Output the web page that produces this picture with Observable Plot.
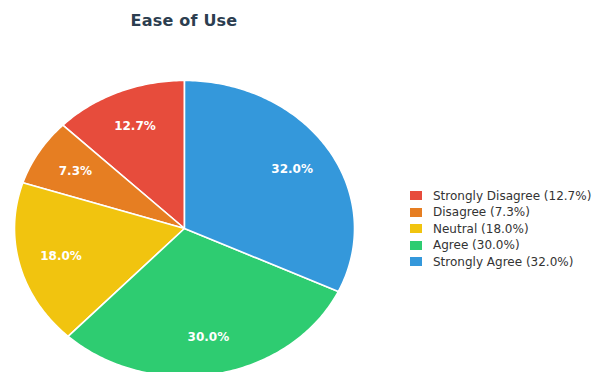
<!DOCTYPE html>
<html><head><meta charset="utf-8">
<script src="https://cdn.jsdelivr.net/npm/d3@7"></script>
<script src="https://cdn.jsdelivr.net/npm/@observablehq/plot@0.6"></script>
<style>
html,body{margin:0;padding:0;overflow:hidden;background:#fff;width:595px;height:372px;}
#wrap{position:relative;width:595px;height:372px;overflow:hidden;}
#chart{position:absolute;left:0;top:0;}
#title{position:absolute;left:0;width:368px;top:12.5px;line-height:16px;text-align:center;font-family:"DejaVu Sans";font-weight:bold;font-size:16px;color:#2c3e50;letter-spacing:0.2px;}
#legend{position:absolute;left:410px;top:187.25px;width:190px;}
#legend div, #legend span{font-family:"DejaVu Sans" !important;font-size:12px !important;color:#333;margin:0;}
#legend .lg-swatch{height:16.5px;padding:0 !important;margin:0;display:flex;align-items:center;}
#legend .lg-swatch > svg{margin-right:11px;}
#legend .lg-swatch-label{overflow:visible;}
</style></head>
<body><div id="wrap"><div id="chart"></div><div id="title"></div><div id="legend"></div></div>
<script>
const title = "Ease of Use";
const categories = ["Strongly Disagree", "Disagree", "Neutral", "Agree", "Strongly Agree"];
const values = [12.7, 7.3, 18.0, 30.0, 32.0];
const colors = ["#e74c3c", "#e67e22", "#f1c40f", "#2ecc71", "#3498db"];

document.getElementById("title").textContent = title;

const total = d3.sum(values);
const ends = Array.from(d3.cumsum(values));
const pts = [];
const labels = [];
categories.forEach((c, i) => {
  const f0 = (ends[i] - values[i]) / total, f1 = ends[i] / total;
  const n = Math.max(2, Math.ceil((f1 - f0) * 400));
  pts.push({cat: c, x: 0, y: 0});
  for (let k = 0; k <= n; k++) {
    const t = 2 * Math.PI * (f0 + (f1 - f0) * k / n);
    pts.push({cat: c, x: -Math.sin(t), y: Math.cos(t)});
  }
  pts.push({cat: c, x: 0, y: 0});
  const tm = Math.PI * (f0 + f1);
  labels.push({cat: c, x: -0.75 * Math.sin(tm), y: 0.75 * Math.cos(tm), text: values[i].toFixed(1) + "%"});
});

const chart = Plot.plot({
  width: 595,
  height: 372,
  x: {domain: [-1, 1], range: [14, 354], axis: null},
  y: {domain: [-1, 1], range: [376, 80], axis: null},
  color: {domain: categories, range: colors},
  style: {fontFamily: "DejaVu Sans", background: "white"},
  marks: [
    Plot.line(pts, {x: "x", y: "y", z: "cat", fill: "cat", stroke: "white", strokeWidth: 1.6, strokeLinejoin: "round", curve: "linear"}),
    Plot.text(labels, {x: "x", y: "y", text: "text", fill: "white", fontSize: 12, fontWeight: "bold"})
  ]
});
document.getElementById("chart").appendChild(chart);

const legend = Plot.legend({
  color: {domain: categories.map((c, i) => `${c} (${values[i].toFixed(1)}%)`), range: colors},
  legend: "swatches",
  columns: 1,
  swatchWidth: 12,
  swatchHeight: 9,
  className: "lg"
});
document.getElementById("legend").appendChild(legend);
</script>
</body></html>
